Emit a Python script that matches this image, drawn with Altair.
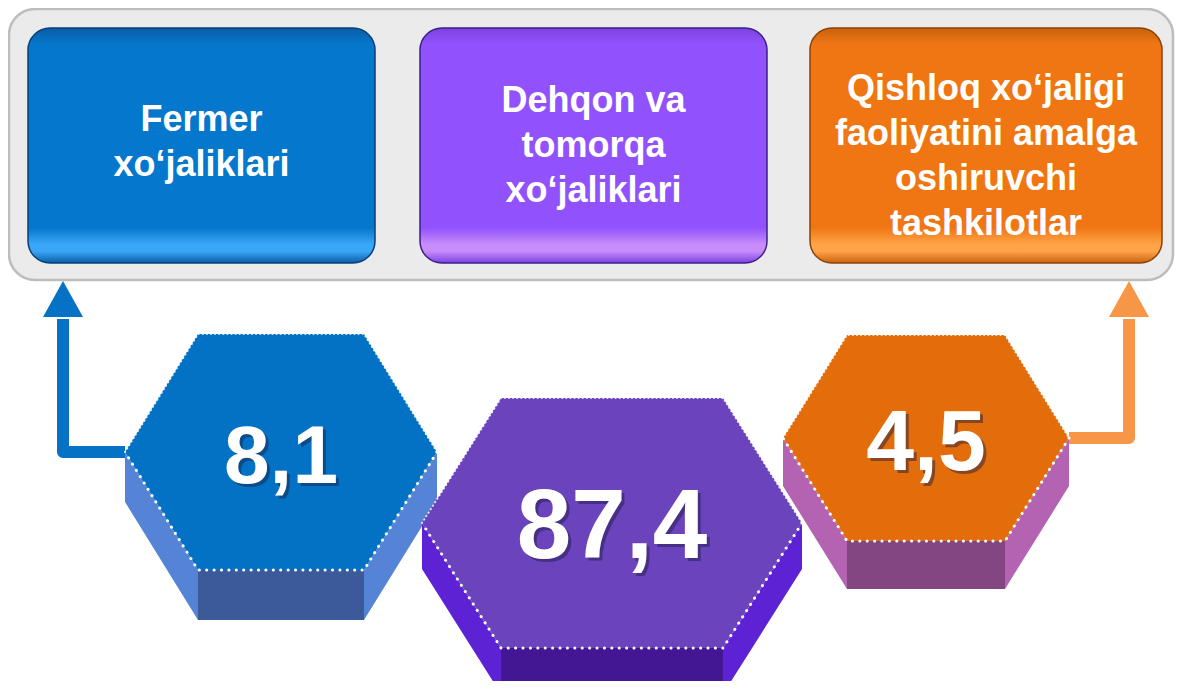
import altair as alt
import pandas as pd

# ---------------- data ----------------
categories = [
    "Fermer\nxo‘jaliklari",
    "Dehqon va\ntomorqa\nxo‘jaliklari",
    "Qishloq xo‘jaligi\nfaoliyatini amalga\noshiruvchi\ntashkilotlar",
]
shares = [8.1, 87.4, 4.5]
share_labels = [f"{v:.1f}".replace(".", ",") for v in shares]

# ---------------- layout (pixel space of the picture) ----------------
panel = dict(x=9, x2=1173, y=9, y2=280)
box_left = [28, 420, 810]
box_right = [375, 767, 1162]
box_top, box_bottom = 28, 263
label_first_baseline = [131, 112, 100]

box_main = ["#0577cc", "#9152fd", "#f07614"]
box_dark = ["#0a5da6", "#7b43df", "#c9620e"]
box_gloss = ["#3aa6f6", "#c88cfb", "#ffa448"]
box_border = ["#0b3f7a", "#3d1f8a", "#8a4208"]

hex_cx = [281, 612, 926]
hex_cy = [452, 523, 438]
hex_rx = [156, 190, 143]      # centre to side vertex
hex_tx = [83, 111, 79]        # half of top edge
hex_ry = [118, 125, 103]      # half height
hex_depth = [50, 46, 48]
num_size = [82, 98, 86]
num_dy = [31, 35, 32]

hex_top = ["#0472c4", "#6b43bd", "#e36c0b"]
hex_side = ["#5583d6", "#5d22d3", "#b463b3"]
hex_front = ["#3c5a9a", "#431793", "#844682"]

arrow_color = ["#0572c6", None, "#f79646"]

FONT = "Liberation Sans"

W, H = 1167, 673
xs = alt.Scale(domain=[8, 8 + W], nice=False, zero=False)
ys = alt.Scale(domain=[8, 8 + H], nice=False, zero=False, reverse=True)


def X(f="x"):
    return alt.X(f"{f}:Q", scale=xs, axis=None)


def Y(f="y"):
    return alt.Y(f"{f}:Q", scale=ys, axis=None)


layers = []

# grey panel
layers.append(
    alt.Chart(pd.DataFrame([panel]))
    .mark_rect(cornerRadius=26, fill="#ebebeb", stroke="#bdbdbd", strokeWidth=2.5)
    .encode(x=X("x"), x2="x2:Q", y=Y("y"), y2="y2:Q")
)

# boxes
for i in range(3):
    grad = alt.Gradient(
        gradient="linear", x1=0, x2=0, y1=0, y2=1,
        stops=[
            alt.GradientStop(color=box_dark[i], offset=0),
            alt.GradientStop(color=box_main[i], offset=0.07),
            alt.GradientStop(color=box_main[i], offset=0.85),
            alt.GradientStop(color=box_gloss[i], offset=0.92),
            alt.GradientStop(color=box_gloss[i], offset=0.95),
            alt.GradientStop(color=box_dark[i], offset=1),
        ],
    )
    df = pd.DataFrame([dict(x=box_left[i], x2=box_right[i], y=box_top, y2=box_bottom)])
    layers.append(
        alt.Chart(df)
        .mark_rect(cornerRadius=22, color=grad, stroke=box_border[i], strokeWidth=1.5)
        .encode(x=X("x"), x2="x2:Q", y=Y("y"), y2="y2:Q")
    )

# box labels
lab = pd.DataFrame(
    dict(
        x=[(l + r) / 2 for l, r in zip(box_left, box_right)],
        y=label_first_baseline,
        t=categories,
    )
)
layers.append(
    alt.Chart(lab)
    .mark_text(font=FONT, fontWeight="bold", fontSize=36, color="white",
               lineBreak="\n", lineHeight=45, baseline="alphabetic", align="center")
    .encode(x=X("x"), y=Y("y"), text="t:N")
)

# arrows (from the side vertex of the outer hexagons up to the panel)
for i, xoff in [(0, 35), (2, -33)]:
    if i == 0:
        sx = hex_cx[i] - hex_rx[i]
        ax = box_left[i] + xoff
    else:
        sx = hex_cx[i] + hex_rx[i]
        ax = box_right[i] + xoff
    sy = hex_cy[i]
    head_base = panel["y2"] + 37
    path = pd.DataFrame(dict(x=[sx, ax, ax], y=[sy, sy, head_base + 2], o=[0, 1, 2]))
    layers.append(
        alt.Chart(path)
        .mark_line(color=arrow_color[i], strokeWidth=12, strokeJoin="round", strokeCap="butt")
        .encode(x=X("x"), y=Y("y"), order="o:Q")
    )
    head = pd.DataFrame(dict(x=[ax - 20, ax, ax + 20], y=[head_base, panel["y2"] + 1, head_base],
                             y2=[head_base] * 3))
    layers.append(
        alt.Chart(head)
        .mark_area(color=arrow_color[i], opacity=1)
        .encode(x=X("x"), y=Y("y"), y2="y2:Q")
    )

# hexagons, drawn blue, orange, then purple in front
for i in [0, 2, 1]:
    cx, cy, rx, tx, ry, d = hex_cx[i], hex_cy[i], hex_rx[i], hex_tx[i], hex_ry[i], hex_depth[i]
    L, R, T1, T2 = cx - rx, cx + rx, cx - tx, cx + tx
    top, bot = cy - ry, cy + ry
    side = pd.DataFrame(dict(x=[L, T1, T2, R], y=[cy, bot, bot, cy], y2=[cy + d, bot + d, bot + d, cy + d]))
    layers.append(
        alt.Chart(side).mark_area(color=hex_side[i], opacity=1)
        .encode(x=X("x"), y=Y("y"), y2="y2:Q")
    )
    front = pd.DataFrame([dict(x=T1, x2=T2, y=bot, y2=bot + d)])
    layers.append(
        alt.Chart(front).mark_rect(color=hex_front[i])
        .encode(x=X("x"), x2="x2:Q", y=Y("y"), y2="y2:Q")
    )
    face = pd.DataFrame(dict(x=[L, T1, T2, R], y=[cy, top, top, cy], y2=[cy, bot, bot, cy]))
    layers.append(
        alt.Chart(face).mark_area(color=hex_top[i], opacity=1)
        .encode(x=X("x"), y=Y("y"), y2="y2:Q")
    )
    upper = pd.DataFrame(dict(x=[L, T1, T2, R], y=[cy, top, top, cy], o=[0, 1, 2, 3]))
    layers.append(
        alt.Chart(upper)
        .mark_line(color="white", strokeWidth=2, strokeDash=[0.1, 4], strokeCap="round", opacity=0.85)
        .encode(x=X("x"), y=Y("y"), order="o:Q")
    )
    lower = pd.DataFrame(dict(x=[R, T2, T1, L], y=[cy, bot, bot, cy], o=[0, 1, 2, 3]))
    layers.append(
        alt.Chart(lower)
        .mark_line(color="white", strokeWidth=3, strokeDash=[0.1, 7.3], strokeCap="round")
        .encode(x=X("x"), y=Y("y"), order="o:Q")
    )
    num = pd.DataFrame([dict(x=cx, y=cy + num_dy[i], t=share_labels[i])])
    layers.append(
        alt.Chart(num)
        .mark_text(font=FONT, fontWeight="bold", fontSize=num_size[i], color="#1a1a40",
                   opacity=0.45, dx=3, dy=3, baseline="alphabetic", align="center")
        .encode(x=X("x"), y=Y("y"), text="t:N")
    )
    layers.append(
        alt.Chart(num)
        .mark_text(font=FONT, fontWeight="bold", fontSize=num_size[i], color="white",
                   baseline="alphabetic", align="center")
        .encode(x=X("x"), y=Y("y"), text="t:N")
    )

chart = (
    alt.layer(*layers)
    .properties(width=W, height=H, padding=0,
                autosize=alt.AutoSizeParams(type="none"), background="white")
    .configure_view(stroke=None)
)

chart.save("out.html", embed_options={"renderer": "svg", "actions": False})
